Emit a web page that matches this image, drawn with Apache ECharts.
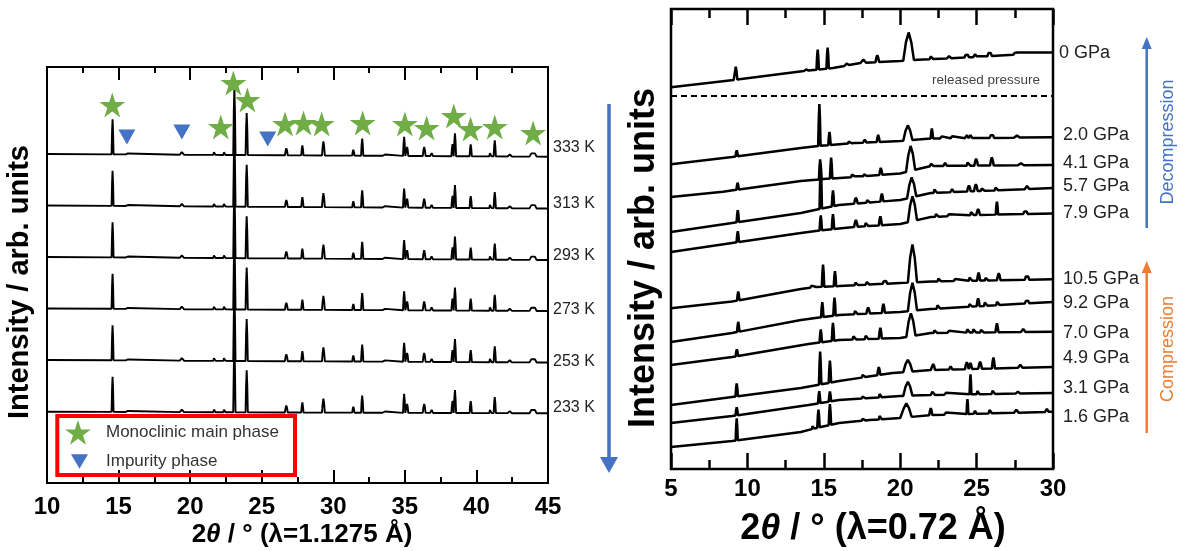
<!DOCTYPE html>
<html><head><meta charset="utf-8">
<script src="https://cdn.jsdelivr.net/npm/echarts@6/dist/echarts.min.js"></script>
<style>html,body{margin:0;padding:0;background:#fff}#c{width:1183px;height:551px}</style>
</head><body><div id="c"></div>
<script>
const FONT = "'Liberation Sans', Arial, sans-serif";

// ---------- Left panel: temperature series (2θ in degrees, intensity in arb. units) ----------
const leftTemps = ['333 K', '313 K', '293 K', '273 K', '253 K', '233 K'];
const leftBaseStart = [329, 277.5, 226, 174.5, 123, 71.3];   // baseline at 10°
const leftBaseEnd   = [326.3, 274.5, 223, 172, 120.5, 69.7]; // baseline at 45°
// [position, height above baseline, half width]
const leftPeaks = [
  [14.58, 35, 0.07], [15.6, 1.5, 0.1], [19.42, 2.5, 0.15], [21.7, 4, 0.08], [22.4, 4, 0.08],
  [23.09, 68, 0.08], [23.95, 42, 0.08], [26.72, 7, 0.1], [27.84, 10, 0.08], [29.31, 14, 0.1],
  [31.4, 6, 0.08], [32.02, 17, 0.08], [33.56, 2, 0.12], [34.95, 19, 0.08], [35.16, 9, 0.08],
  [36.35, 9, 0.1], [36.87, 3, 0.1], [38.33, 12, 0.08], [38.5, 23, 0.08], [39.6, 12, 0.08],
  [40.98, 5, 0.08], [41.28, 16, 0.08], [42.33, 2, 0.15], [43.96, 5, 0.25]
];
const starX = [14.56, 22.14, 23.02, 24.0, 26.63, 27.92, 29.19, 32.05, 35.0, 36.52, 38.42, 39.59, 41.28, 43.96];
const starY = [378, 356, 400, 383, 359, 360, 359, 360, 359, 355, 367, 354, 356, 350];
const triX = [15.58, 19.42, 25.42];
const triY = [346, 351, 344];

// ---------- Right panel: pressure series ----------
const rightPressures = ['0 GPa', '2.0 GPa', '4.1 GPa', '5.7 GPa', '7.9 GPa',
  '10.5 GPa', '9.2 GPa', '7.0 GPa', '4.9 GPa', '3.1 GPa', '1.6 GPa'];
// baseline knots [2θ, intensity]
const rightBaselines = [
  [[5,381.7],[9.1,389],[13.7,398],[15.6,401],[17.4,406],[20,408],[21.5,409.5],[25,412],[30,416.5]],
  [[5,304.7],[9,312],[13.5,321],[15,323.5],[17,326],[20,328],[22,330.5],[30,331.7]],
  [[5,272],[8.4,277.3],[13.5,288],[15,290],[17,292],[20,295.5],[22,303],[30,304]],
  [[5,237],[9,246],[13.5,256],[16,264],[20,269],[22,276],[30,281]],
  [[5,217],[9,226],[13.5,236],[15,239],[17,242],[20,245],[22,252],[25,254],[30,255.5]],
  [[5,160.7],[9,167.5],[13.5,180],[14.5,182],[16,183],[20,186],[22,187.5],[30,189.7]],
  [[5,127],[9,136],[13.5,149],[16,154],[20,157],[22,160],[30,167]],
  [[5,104],[9,112],[14,125],[16,129],[20,131],[22,136],[30,137.3]],
  [[5,64],[9,72],[13.5,81],[16,88],[19.5,96],[22,99],[30,102]],
  [[5,46],[9,53],[14,64],[16,69],[20,73],[22,74],[30,76]],
  [[5,22],[9,28],[13.5,37],[14.5,41],[16,46],[18,49],[20,51],[22,54],[30,57.3]]
];
// peaks [position, height, half width]
const rightPeaks = [
  [[9.24,13,0.1],[13.9,2,0.1],[14.6,20,0.08],[15.25,21,0.08],[16.5,2,0.15],[17.65,5,0.12],[18.5,7,0.12],[20.55,28,0.35],[22.05,4,0.12],[23.2,2,0.15],[24.35,4,0.15],[24.9,3,0.12],[25.85,5,0.15],[27.6,3,0.2]],
  [[9.3,6,0.08],[14.71,42,0.08],[15.37,13,0.08],[16.7,3,0.12],[17.68,3,0.12],[18.56,7,0.1],[20.5,15,0.3],[22.07,10,0.08],[22.73,2,0.12],[23.4,2,0.12],[24.36,3,0.12],[24.6,3,0.12],[26.0,4,0.15],[27.64,2,0.2]],
  [[9.36,7,0.08],[14.76,20,0.08],[15.48,21,0.08],[16.9,4,0.12],[17.7,3,0.12],[18.73,7,0.1],[20.68,25,0.3],[22.07,4,0.12],[22.94,3,0.12],[24.47,5,0.12],[24.97,7,0.12],[26.0,8,0.12],[27.9,2,0.2]],
  [[9.37,12,0.08],[14.8,45,0.08],[15.6,16,0.08],[17.1,6,0.12],[17.9,4,0.12],[18.8,8,0.1],[20.75,20,0.3],[22.3,5,0.12],[23.4,3,0.12],[24.5,6,0.12],[24.95,7,0.12],[25.4,4,0.12],[26.3,4,0.12],[28.3,3,0.15]],
  [[9.37,11,0.08],[14.8,15,0.08],[15.6,15,0.08],[17.1,7,0.12],[17.8,5,0.12],[18.7,9,0.1],[20.8,25,0.3],[22.4,4,0.12],[23.2,2,0.12],[24.7,5,0.12],[25.1,6,0.12],[26.33,13,0.08],[28.2,4,0.15]],
  [[9.4,9,0.08],[14.2,2,0.1],[14.95,22,0.08],[15.73,15,0.08],[17.13,4,0.12],[17.86,4,0.12],[19.0,4,0.15],[20.8,38,0.3],[22.56,4,0.12],[23.6,2,0.12],[24.6,5,0.12],[25.13,8,0.1],[25.65,4,0.12],[26.45,7,0.12],[28.3,5,0.15]],
  [[9.4,10,0.08],[14.9,15,0.08],[15.7,18,0.08],[17.1,5,0.12],[17.9,6,0.12],[18.9,9,0.1],[20.8,28,0.3],[22.5,5,0.12],[24.6,4,0.12],[25.1,8,0.1],[25.6,5,0.12],[26.4,5,0.12],[28.3,4,0.15]],
  [[9.31,7,0.08],[14.8,13,0.08],[15.6,18,0.08],[17.0,5,0.12],[17.8,5,0.12],[18.7,11,0.1],[20.7,23,0.3],[22.3,4,0.12],[23.2,2,0.12],[24.45,5,0.12],[24.85,5,0.12],[25.35,4,0.12],[26.33,9,0.1],[28.05,3,0.15]],
  [[9.3,13,0.08],[14.76,33,0.08],[15.4,22,0.08],[17.6,4,0.12],[18.6,8,0.1],[20.5,12,0.3],[22.16,6,0.12],[23.3,3,0.12],[24.36,7,0.12],[24.6,6,0.1],[25.23,7,0.12],[26.1,11,0.1],[27.86,3,0.15]],
  [[9.3,8,0.08],[14.7,12,0.08],[15.4,10,0.08],[17.6,3,0.12],[18.7,5,0.1],[20.5,14,0.3],[22.16,5,0.12],[23.0,2,0.12],[24.6,20,0.06],[25.1,5,0.1],[26.1,5,0.12],[27.7,2,0.15]],
  [[9.3,22,0.07],[14.3,4,0.08],[14.65,18,0.08],[15.4,21,0.08],[17.6,3,0.12],[18.7,5,0.1],[20.4,14,0.35],[22.0,7,0.1],[23.0,2,0.12],[24.4,15,0.06],[24.9,3,0.1],[25.9,5,0.12],[27.6,3,0.15],[29.6,3,0.12]]
];
const releasedLevel = 373;

// ---------- helpers ----------
function baseAt(knots, x) {
  if (x <= knots[0][0]) return knots[0][1];
  for (let i = 1; i < knots.length; i++) {
    if (x <= knots[i][0]) {
      const a = knots[i - 1], b = knots[i];
      return a[1] + (b[1] - a[1]) * (x - a[0]) / (b[0] - a[0]);
    }
  }
  return knots[knots.length - 1][1];
}
// peak outline: foot, shoulder, top, shoulder, foot
function peakAt(p, x) {
  const d = Math.abs(x - p[0]) / p[2];
  if (d >= 1) return 0;
  if (d <= 0.5) return p[1] * (1 - 0.7 * d);
  return p[1] * 0.65 * (1 - d) / 0.5;
}
function buildCurve(knots, peaks, xmin, xmax) {
  const xs = new Set(knots.map(k => k[0]));
  xs.add(xmin); xs.add(xmax);
  peaks.forEach(p => {
    xs.add(p[0] - p[2]); xs.add(p[0] - p[2] / 2); xs.add(p[0]);
    xs.add(p[0] + p[2] / 2); xs.add(p[0] + p[2]);
  });
  const arr = [...xs].filter(x => x >= xmin && x <= xmax).sort((a, b) => a - b);
  return arr.map(x => {
    let y = baseAt(knots, x);
    peaks.forEach(p => { y += peakAt(p, x); });
    return [x, y];
  });
}

const STAR = 'path://M50,0 L61.2,34.5 L97.6,34.5 L68.2,55.9 L79.4,90.5 L50,69.1 L20.6,90.5 L31.8,55.9 L2.4,34.5 L38.8,34.5 Z';
const TRI = 'path://M0,0 L20,0 L10,17 Z';

const series = [];
leftTemps.forEach((t, i) => {
  series.push({
    type: 'line', name: t, xAxisIndex: 0, yAxisIndex: 0, symbol: 'none', silent: true,
    lineStyle: { color: '#000', width: 1.9 },
    data: buildCurve([[10, leftBaseStart[i]], [45, leftBaseEnd[i]]], leftPeaks, 10, 45)
  });
});
series.push({
  type: 'scatter', name: 'Monoclinic main phase', xAxisIndex: 0, yAxisIndex: 0, z: 5,
  symbol: STAR, symbolSize: [26, 25], itemStyle: { color: '#70AD47', opacity: 1 },
  data: starX.map((x, i) => [x, starY[i]])
});
series.push({
  type: 'scatter', name: 'Impurity phase', xAxisIndex: 0, yAxisIndex: 0, z: 5,
  symbol: TRI, symbolSize: [17, 15], itemStyle: { color: '#4472C4', opacity: 1 },
  data: triX.map((x, i) => [x, triY[i]])
});
rightPressures.forEach((p, i) => {
  series.push({
    type: 'line', name: p, xAxisIndex: 2, yAxisIndex: 1, symbol: 'none', silent: true,
    lineStyle: { color: '#000', width: 2.5 },
    data: buildCurve(rightBaselines[i], rightPeaks[i], 5, 30)
  });
});
series.push({
  type: 'line', name: 'released pressure', xAxisIndex: 2, yAxisIndex: 1, symbol: 'none', silent: true,
  lineStyle: { color: '#000', width: 2, type: [6, 4] },
  data: [[5, releasedLevel], [30, releasedLevel]]
});

function xAxisCfg(grid, min, max, pos, showLabel, major, minor, w) {
  return {
    gridIndex: grid, type: 'value', min: min, max: max, interval: 5, position: pos,
    axisLine: { show: false }, splitLine: { show: false },
    axisTick: { show: true, inside: true, length: major, lineStyle: { color: '#000', width: w } },
    minorTick: { show: true, splitNumber: 2, length: minor, lineStyle: { color: '#000', width: w } },
    axisLabel: { show: showLabel, margin: grid === 0 ? 12 : 8, fontSize: 24, fontWeight: 'bold', color: '#000', fontFamily: FONT }
  };
}

const labelStyle = (size, color) => ({ font: size + 'px ' + FONT, fill: color || '#222', verticalAlign: 'middle' });
const leftLabelY = [147.5, 204, 256, 310, 362, 408];
const rightLabelY = [53, 135, 163, 186, 213, 279, 303, 333, 358, 388, 417];
const graphics = [];
leftTemps.forEach((t, i) => graphics.push({ type: 'text', x: 553, y: leftLabelY[i], style: Object.assign({ text: t }, labelStyle(16)) }));
rightPressures.forEach((t, i) => graphics.push({ type: 'text', x: i === 0 ? 1059 : 1063, y: rightLabelY[i], style: Object.assign({ text: t }, labelStyle(18)) }));
graphics.push(
  { type: 'text', x: 986, y: 80, style: { text: 'released pressure', font: '13.5px ' + FONT, fill: '#444', align: 'center', verticalAlign: 'middle' } },
  { type: 'rect', shape: { x: 57.3, y: 416, width: 237.7, height: 59 }, style: { fill: 'none', stroke: '#FF0000', lineWidth: 4 }, z: 10 },
  // left blue arrow
  { type: 'line', shape: { x1: 609, y1: 104, x2: 609, y2: 460 }, style: { stroke: '#4472C4', lineWidth: 3.5 } },
  { type: 'polygon', shape: { points: [[600, 457], [618, 457], [609, 473]] }, style: { fill: '#4472C4' } },
  // decompression arrow
  { type: 'line', shape: { x1: 1146.7, y1: 46, x2: 1146.7, y2: 228 }, style: { stroke: '#4472C4', lineWidth: 2.5 } },
  { type: 'polygon', shape: { points: [[1141.7, 49], [1151.7, 49], [1146.7, 37]] }, style: { fill: '#4472C4' } },
  { type: 'text', x: 1168, y: 142, rotation: Math.PI / 2, style: { text: 'Decompression', font: '18px ' + FONT, fill: '#4472C4', align: 'center', verticalAlign: 'middle' } },
  // compression arrow
  { type: 'line', shape: { x1: 1146.7, y1: 270, x2: 1146.7, y2: 433 }, style: { stroke: '#ED7D31', lineWidth: 2.5 } },
  { type: 'polygon', shape: { points: [[1141.7, 273], [1151.7, 273], [1146.7, 261]] }, style: { fill: '#ED7D31' } },
  { type: 'text', x: 1168, y: 349, rotation: Math.PI / 2, style: { text: 'Compression', font: '18px ' + FONT, fill: '#ED7D31', align: 'center', verticalAlign: 'middle' } },
  // axis titles
  { type: 'text', x: 20, y: 282, rotation: Math.PI / 2, style: { text: 'Intensity / arb. units', font: 'bold 29px ' + FONT, fill: '#000', align: 'center', verticalAlign: 'middle' } },
  { type: 'text', x: 644, y: 258, rotation: Math.PI / 2, style: { text: 'Intensity / arb. units', font: 'bold 36px ' + FONT, fill: '#000', align: 'center', verticalAlign: 'middle' } },
  { type: 'text', x: 302, y: 535, style: { text: '{b|2}{i|θ}{b| / ° (λ=1.1275 Å)}', align: 'center', verticalAlign: 'middle',
      rich: { b: { font: 'bold 26px ' + FONT, fill: '#000' }, i: { font: 'italic bold 26px ' + FONT, fill: '#000' } } } },
  { type: 'text', x: 873, y: 529, style: { text: '{b|2}{i|θ}{b| / ° (λ=0.72 Å)}', align: 'center', verticalAlign: 'middle',
      rich: { b: { font: 'bold 36px ' + FONT, fill: '#000' }, i: { font: 'italic bold 36px ' + FONT, fill: '#000' } } } }
);

const chart = echarts.init(document.getElementById('c'), null, { renderer: 'canvas' });
chart.setOption({
  animation: false,
  backgroundColor: '#fff',
  textStyle: { fontFamily: FONT },
  grid: [
    { left: 47, top: 67, width: 501, height: 416, show: true, borderColor: '#000', borderWidth: 2, backgroundColor: 'transparent' },
    { left: 671, top: 9, width: 382, height: 460, show: true, borderColor: '#000', borderWidth: 2.5, backgroundColor: 'transparent' }
  ],
  xAxis: [
    xAxisCfg(0, 10, 45, 'bottom', true, 13, 6, 2),
    xAxisCfg(0, 10, 45, 'top', false, 13, 6, 2),
    xAxisCfg(1, 5, 30, 'bottom', true, 16, 9, 2.5),
    xAxisCfg(1, 5, 30, 'top', false, 16, 9, 2.5)
  ],
  yAxis: [
    { gridIndex: 0, type: 'value', min: 0, max: 416, show: false },
    { gridIndex: 1, type: 'value', min: 0, max: 460, show: false }
  ],
  legend: [
    { data: [{ name: 'Monoclinic main phase', icon: STAR }], left: 60, top: 415, itemWidth: 26, itemHeight: 25, selectedMode: false,
      textStyle: { fontSize: 17, color: '#333', fontFamily: FONT, padding: [0, 0, 0, 10] } },
    { data: [{ name: 'Impurity phase', icon: TRI }], left: 66, top: 448, itemWidth: 17, itemHeight: 15, selectedMode: false,
      textStyle: { fontSize: 17, color: '#333', fontFamily: FONT, padding: [0, 0, 0, 13] } }
  ],
  graphic: graphics,
  series: series
});
</script>
</body></html>
